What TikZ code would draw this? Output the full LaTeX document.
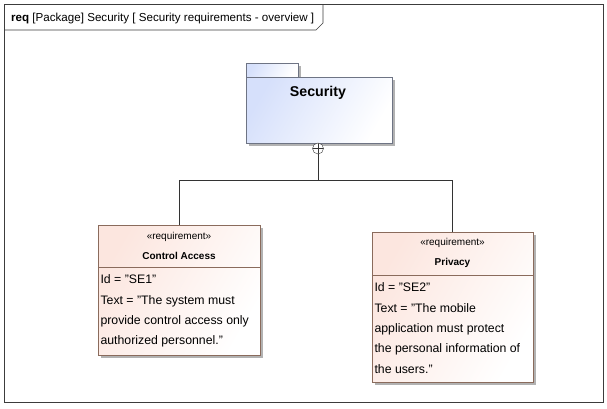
\documentclass[tikz,border=0pt]{standalone}
\usepackage{fontspec}
\setmainfont{Liberation Sans}
\usetikzlibrary{positioning,calc,shadows}
\definecolor{pkgblue}{HTML}{D6E0FB}
\definecolor{pkgline}{HTML}{6E7484}
\definecolor{reqpink}{HTML}{FCE6DF}
\definecolor{reqline}{HTML}{8A6B5C}
\definecolor{frameline}{HTML}{3C3C3C}
\tikzset{
  pkgshape/.style={draw=pkgline, left color=pkgblue, right color=white, shading angle=60, inner sep=0pt},
  reqbox/.style={draw=reqline, left color=reqpink, right color=white, shading angle=60, inner sep=0pt,
    drop shadow={shadow xshift=2.5pt, shadow yshift=-2.5pt, fill=black!30, opacity=1}},
  stereo/.style={font=\fontsize{10}{11}\selectfont},
  reqname/.style={font=\fontsize{10}{11}\selectfont\bfseries},
  reqtext/.style={font=\fontsize{12.3}{20.3}\selectfont, align=left, anchor=north west, inner sep=0pt},
  owner/.style={circle, draw=black!80, fill=white, minimum size=11pt, inner sep=0pt,
    path picture={\draw[black!80] (path picture bounding box.north) -- (path picture bounding box.south)
      (path picture bounding box.west) -- (path picture bounding box.east);}},
  link/.style={draw=black!80, line width=0.6pt}
}
\begin{document}
\begin{tikzpicture}[x=1pt, y=-1pt]
  \useasboundingbox[fill=white] (0,0) rectangle (607,408);
  % diagram frame
  \draw[frameline, line width=0.9pt] (4,4) rectangle (603,402);
  \draw[frameline, line width=0.6pt] (4,30) -- (316,30) -- (323,23) -- (323,4);
  \node[anchor=base west, inner sep=0pt, font=\fontsize{11.6}{13}\selectfont] (title) at (11,21)
    {\textbf{req} [Package] Security [ Security requirements - overview ]};

  % package
  \node[pkgshape, minimum width=52pt, minimum height=14pt,
    drop shadow={shadow xshift=2.5pt, shadow yshift=-2.5pt, fill=black!30, opacity=1}] (sectab) at (272,70) {};
  \node[pkgshape, minimum width=146pt, minimum height=66pt,
    drop shadow={shadow xshift=2.5pt, shadow yshift=-2.5pt, fill=black!30, opacity=1}] (sec) at (319,110) {};
  \node[font=\fontsize{14.2}{16}\selectfont\bfseries] (sectitle) at (318,93) {Security};

  % requirements
  \node[reqbox, minimum width=162pt, minimum height=130pt] (ca) at (179,290) {};
  \node[stereo] (castereo) at ($(ca.north)+(0,12)$) {«requirement»};
  \node[reqname] (caname) at ($(ca.north)+(0,31)$) {Control Access};
  \draw[reqline] ($(ca.north west)+(0,42)$) -- ($(ca.north east)+(0,42)$);
  \node[reqtext] (catext) at ($(ca.north west)+(2.5,50)$)
    {Id = "SE1"\\Text = "The system must\\provide control access only\\authorized personnel."};

  \node[reqbox, minimum width=161pt, minimum height=150pt] (pv) at (452.5,307) {};
  \node[stereo] (pvstereo) at ($(pv.north)+(0,11)$) {«requirement»};
  \node[reqname] (pvname) at ($(pv.north)+(0,31)$) {Privacy};
  \draw[reqline] ($(pv.north west)+(0,43)$) -- ($(pv.north east)+(0,43)$);
  \node[reqtext] (pvtext) at ($(pv.north west)+(2.5,51)$)
    {Id = "SE2"\\Text = "The mobile\\application must protect\\the personal information of\\the users."};

  % containment
  \node[owner] (own) at (318,148.5) {};
  \coordinate (fork) at (318,180);
  \draw[link] (own.south) -- (fork);
  \draw[link] (fork) -| (ca.north);
  \draw[link] (fork) -| (pv.north);
\end{tikzpicture}
\end{document}
